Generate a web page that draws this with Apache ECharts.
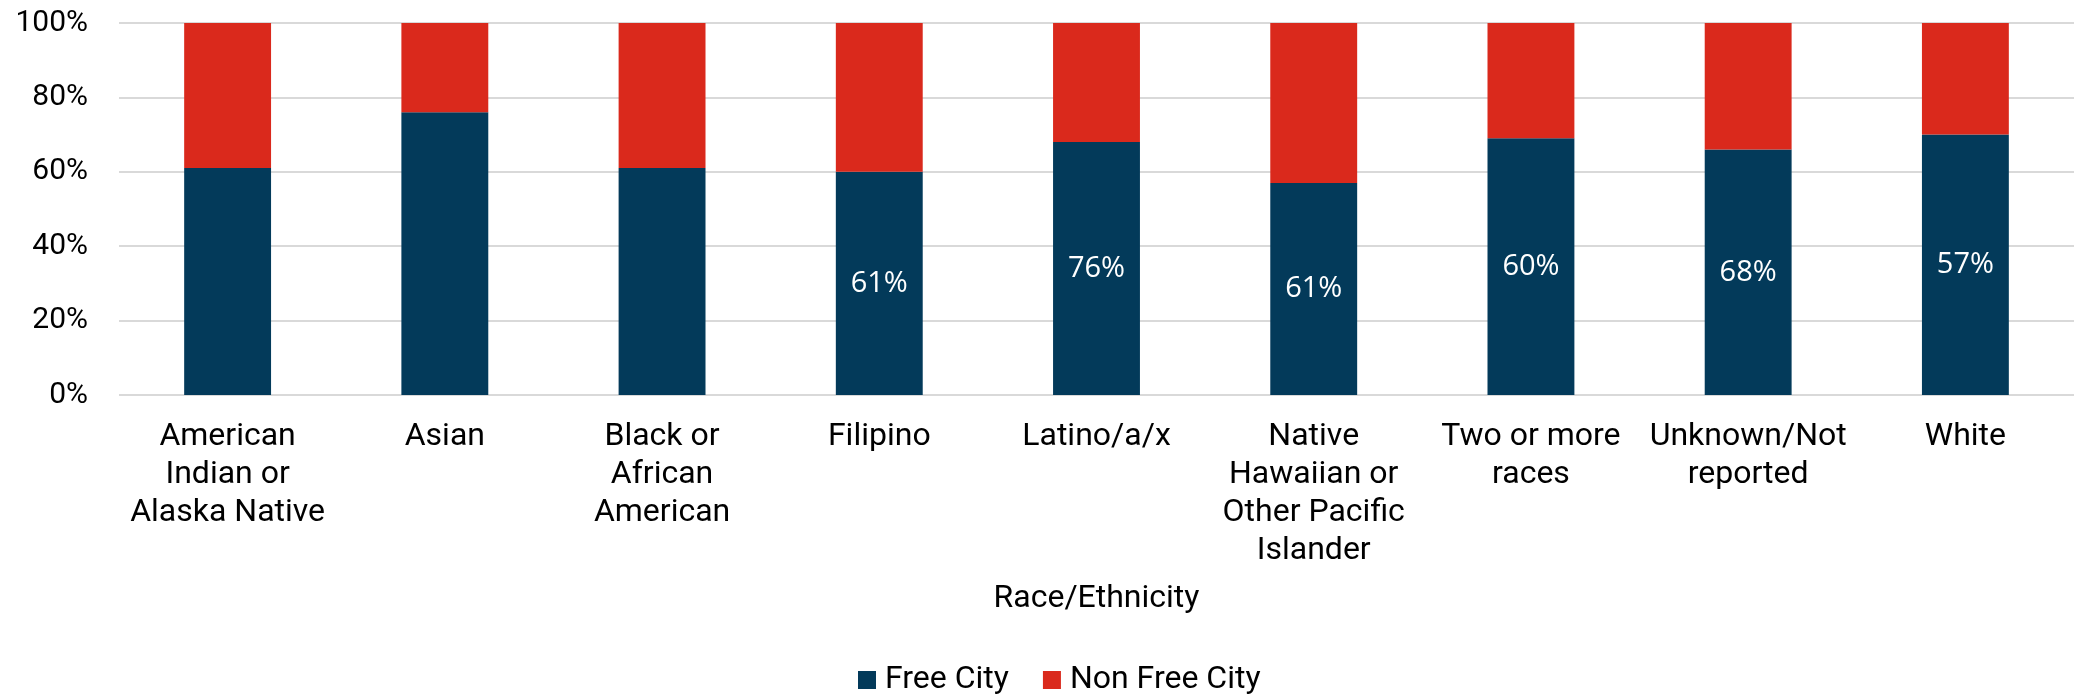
<!DOCTYPE html>
<html>
<head>
<meta charset="utf-8">
<script src="https://cdn.jsdelivr.net/npm/echarts@6/dist/echarts.min.js"></script>
<style>
  html, body { margin: 0; padding: 0; background: #fff; }
  #chart { width: 2074px; height: 694px; }
</style>
</head>
<body>
<div id="chart"></div>
<script>
const categories = [
  'American\nIndian or\nAlaska Native',
  'Asian',
  'Black or\nAfrican\nAmerican',
  'Filipino',
  'Latino/a/x',
  'Native\nHawaiian or\nOther Pacific\nIslander',
  'Two or more\nraces',
  'Unknown/Not\nreported',
  'White'
]
const freeCity = [61, 76, 61, 60, 68, 57, 69, 66, 70]
const nonFreeCity = [39, 24, 39, 40, 32, 43, 31, 34, 30]
// data labels as printed in the source chart (they sit on the last six bars)
const freeLabels = ['', '', '', '61%', '76%', '61%', '60%', '68%', '57%']
const yTicks = [0, 20, 40, 60, 80, 100]

const chart = echarts.init(document.getElementById('chart'))

chart.setOption({
  animation: false,
  textStyle: { fontFamily: 'Roboto' },
  grid: { left: 119, right: 0, top: 23, bottom: 299 },
  legend: {
    left: 853,
    top: 659,
    itemWidth: 18,
    itemHeight: 18,
    itemGap: 34,
    icon: 'rect',
    textStyle: { fontSize: 32, color: '#000', fontFamily: 'Roboto', padding: [0, 0, 0, 4] },
    data: ['Free City', 'Non Free City']
  },
  xAxis: {
    type: 'category',
    data: categories,
    name: 'Race/Ethnicity',
    nameLocation: 'middle',
    nameGap: 188,
    nameTextStyle: { fontSize: 32, color: '#000', fontFamily: 'Roboto' },
    axisLine: { show: false },
    axisTick: { show: false },
    axisLabel: {
      interval: 0,
      margin: 23,
      fontSize: 32,
      lineHeight: 38,
      color: '#000',
      fontFamily: 'Roboto'
    }
  },
  yAxis: {
    type: 'value',
    min: yTicks[0],
    max: yTicks[yTicks.length - 1],
    interval: 20,
    axisLabel: {
      margin: 31,
      fontSize: 30,
      color: '#000',
      fontFamily: 'Roboto',
      formatter: '{value}%'
    },
    splitLine: { lineStyle: { color: '#d9d9d9', width: 2 } }
  },
  series: [
    {
      name: 'Free City',
      type: 'bar',
      stack: 'total',
      barWidth: '40%',
      data: freeCity,
      itemStyle: { color: '#033a5a' },
      label: {
        show: true,
        position: 'inside',
        color: '#fff',
        fontSize: 29,
        fontFamily: 'Open Sans',
        formatter: (p) => freeLabels[p.dataIndex]
      }
    },
    {
      name: 'Non Free City',
      type: 'bar',
      stack: 'total',
      barWidth: '40%',
      data: nonFreeCity,
      itemStyle: { color: '#da291c' }
    }
  ]
})
</script>
</body>
</html>
